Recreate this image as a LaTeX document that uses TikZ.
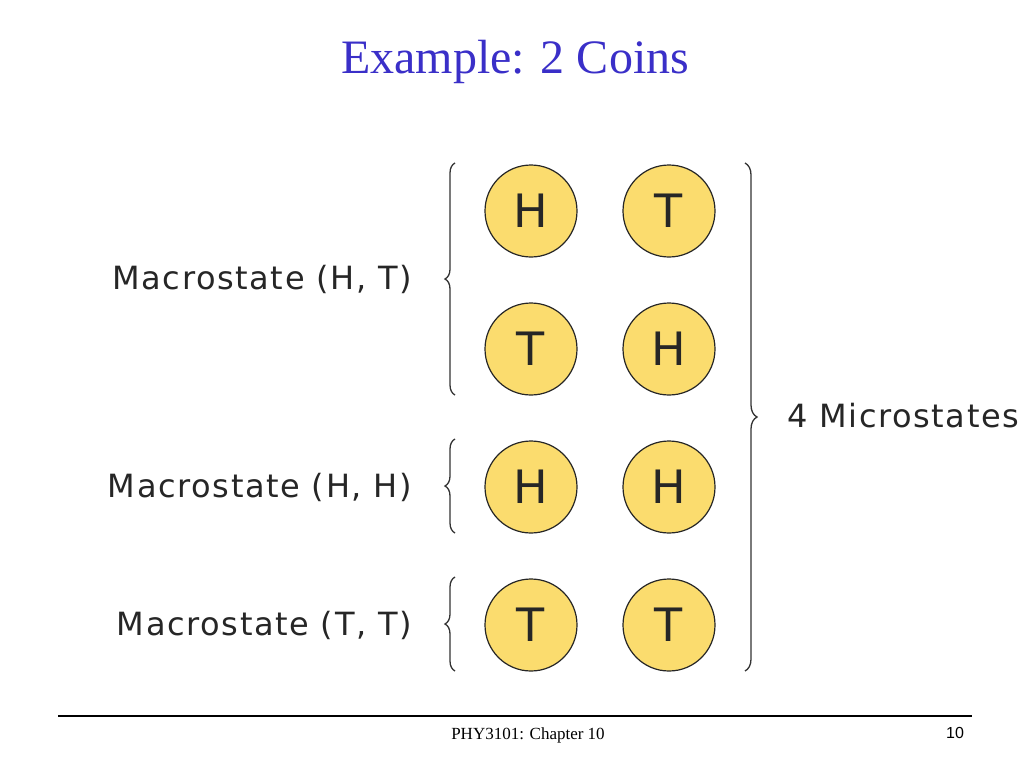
\documentclass[tikz,border=0pt]{standalone}
\usepackage{fontspec}
\setmainfont{Liberation Serif}
\newfontfamily\dvs{DejaVu Sans}
\newfontfamily\dvsw[LetterSpace=5]{DejaVu Sans}
\newfontfamily\lsans{Liberation Sans}
\usetikzlibrary{decorations.pathreplacing}
\definecolor{coinfill}{HTML}{FBDC6E}
\definecolor{titleblue}{HTML}{3A2FC8}
\tikzset{
  coin/.style={circle,draw=black!85,line width=1.2pt,fill=coinfill,minimum size=92pt,inner sep=0pt,font=\dvs\fontsize{46}{46}\selectfont,text=black!85},
  lab/.style={anchor=east,font=\dvsw\fontsize{32}{32}\selectfont,text=black!85,inner sep=0pt},
  br/.style={decorate,draw=black!80,line width=1.3pt},
}
\begin{document}
\begin{tikzpicture}[x=1pt,y=-1pt]
\useasboundingbox (0,0) rectangle (1024,768);
\node[text=titleblue,font=\fontsize{48}{48}\selectfont] (title) at (515,62) {Example: 2 Coins};
\node[coin] (c1) at (531,211) {H};
\node[coin] (c2) at (669,211) {T};
\node[coin] (c3) at (531,349) {T};
\node[coin] (c4) at (669,349) {H};
\node[coin] (c5) at (531,487) {H};
\node[coin] (c6) at (669,487) {H};
\node[coin] (c7) at (531,625) {T};
\node[coin] (c8) at (669,625) {T};
\node[lab] (l1) at (412,279) {Macrostate (H, T)};
\node[lab] (l2) at (412,487) {Macrostate (H, H)};
\node[lab] (l3) at (412,625) {Macrostate (T, T)};
\draw[br,decoration={brace,amplitude=10pt}] (455,395) -- (455,163);
\draw[br,decoration={brace,amplitude=10pt}] (455,533) -- (455,439);
\draw[br,decoration={brace,amplitude=10pt}] (455,671) -- (455,577);
\draw[br,decoration={brace,amplitude=12pt}] (745,163) -- (745,671);
\node[anchor=west,font=\dvsw\fontsize{32}{32}\selectfont,text=black!85,inner sep=0pt] (m) at (787,416) {4 Microstates};
\coordinate (la) at (58,716); \coordinate (lb) at (972,716);
\draw[line width=2pt] (la) -- (lb);
\node[font=\fontsize{17}{17}\selectfont] (f) at (528,735) {PHY3101: Chapter 10};
\node[font=\lsans\fontsize{16}{16}\selectfont] (p) at (955,733) {10};
\end{tikzpicture}
\end{document}
